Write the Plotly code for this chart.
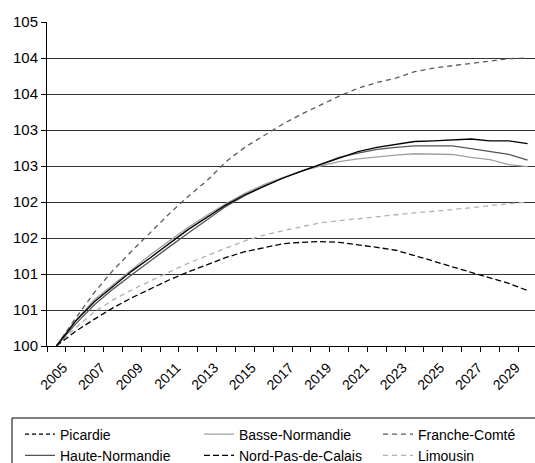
import plotly.graph_objects as go

years = list(range(2005, 2031))

picardie = [100, 100.34, 100.61, 100.83, 101.04, 101.23, 101.43, 101.62, 101.79, 101.96,
            102.10, 102.22, 102.33, 102.43, 102.52, 102.62, 102.70, 102.76, 102.80, 102.84,
            102.85, 102.86, 102.875, 102.85, 102.85, 102.81]
basse_normandie = [100, 100.35, 100.64, 100.85, 101.07, 101.27, 101.46, 101.65, 101.82, 101.98,
                   102.12, 102.24, 102.34, 102.43, 102.50, 102.56, 102.60, 102.63, 102.65, 102.67,
                   102.67, 102.66, 102.62, 102.59, 102.52, 102.49]
franche_comte = [100, 100.38, 100.74, 101.05, 101.32, 101.58, 101.84, 102.08, 102.30, 102.56,
                 102.76, 102.92, 103.08, 103.22, 103.35, 103.47, 103.58, 103.66, 103.72, 103.81,
                 103.86, 103.89, 103.93, 103.96, 103.99, 104.00]
haute_normandie = [100, 100.30, 100.57, 100.79, 100.99, 101.19, 101.38, 101.57, 101.76, 101.94,
                   102.09, 102.22, 102.33, 102.43, 102.53, 102.62, 102.68, 102.73, 102.76, 102.78,
                   102.78, 102.78, 102.74, 102.70, 102.66, 102.58]
nord_pas_de_calais = [100, 100.20, 100.37, 100.53, 100.67, 100.80, 100.92, 101.03, 101.13, 101.23,
                      101.31, 101.37, 101.42, 101.44, 101.45, 101.44, 101.41, 101.37, 101.33, 101.26,
                      101.18, 101.10, 101.02, 100.95, 100.87, 100.77]
limousin = [100, 100.25, 100.47, 100.64, 100.78, 100.91, 101.03, 101.15, 101.26, 101.36,
            101.46, 101.54, 101.60, 101.66, 101.71, 101.74, 101.77, 101.79, 101.82, 101.85,
            101.87, 101.89, 101.92, 101.95, 101.98, 102.00]

y_tickvals = [100, 100.5, 101, 101.5, 102, 102.5, 103, 103.5, 104, 104.5]
y_ticktext = ["100", "101", "101", "102", "102", "103", "103", "104", "104", "105"]
x_labels = list(range(2005, 2030, 2))

FONT = "Liberation Sans, Arial, sans-serif"
W, H = 535, 463
ML, MT, MB = 47, 22, 117
PW, PH = W - ML, H - MT - MB

def px_x(p):
    return (p - ML) / PW

def px_y(p):
    return (H - MB - p) / PH

fig = go.Figure()

def add(name, y, color, dash, rank, show=True):
    fig.add_trace(go.Scatter(x=years, y=y, name=name, mode="lines",
                             line=dict(color=color, width=1.3, dash=dash),
                             showlegend=show, legendrank=rank))

add("Limousin", limousin, "#b0b0b0", "5px,4px", 6)
add("Nord-Pas-de-Calais", nord_pas_de_calais, "#000000", "6px,3px", 5)
add("Franche-Comté", franche_comte, "#5a5a5a", "5px,4px", 3)
add("Basse-Normandie", basse_normandie, "#a0a0a0", "solid", 2)
add("Haute-Normandie", haute_normandie, "#555555", "solid", 4)
add("Picardie", picardie, "#000000", "solid", 1, show=False)
# legend entry for Picardie as shown in the reference legend
fig.add_trace(go.Scatter(x=[None], y=[None], name="Picardie", mode="lines",
                         line=dict(color="#000000", width=1.3, dash="4px,3px"),
                         legendrank=1))

# legend frame
fig.add_shape(type="rect", xref="paper", yref="paper",
              x0=px_x(12), x1=px_x(W + 20), y0=px_y(418), y1=px_y(H + 20),
              line=dict(color="black", width=1), fillcolor="rgba(0,0,0,0)")

fig.update_layout(
    width=W, height=H,
    margin=dict(l=ML, r=0, t=MT, b=MB, autoexpand=False),
    paper_bgcolor="white", plot_bgcolor="white",
    font=dict(family=FONT, size=14, color="black"),
    showlegend=True,
    legend=dict(orientation="h", x=px_x(20), xanchor="left", y=px_y(418.5), yanchor="top",
                borderwidth=0, bgcolor="rgba(0,0,0,0)",
                entrywidth=134, entrywidthmode="pixels",
                font=dict(family=FONT, size=14, color="black"),
                traceorder="normal"),
)
fig.update_xaxes(
    range=[2004.5, 2030.39], tickmode="array", tickvals=x_labels,
    ticktext=[str(v) for v in x_labels], tickangle=-45, ticks="",
    ticklabelstandoff=7, ticklabelshift=7,
    showline=True, linecolor="black", linewidth=1, showgrid=False, zeroline=False,
    automargin=False, tickfont=dict(family=FONT, size=14),
    minor=dict(tickmode="linear", tick0=2004.5, dtick=1, ticks="outside",
               ticklen=5, tickcolor="black", showgrid=False),
)
fig.update_yaxes(
    range=[100, 104.5], tickmode="array", tickvals=y_tickvals, ticktext=y_ticktext,
    ticks="outside", ticklen=5, tickcolor="black",
    showline=True, linecolor="black", linewidth=1,
    showgrid=True, gridcolor="#333333", gridwidth=1, zeroline=False,
    automargin=False, tickfont=dict(family=FONT, size=15),
)

fig.write_html("out.html", config={"displayModeBar": False},
               post_script="document.body.style.margin='0';document.body.style.overflow='hidden';")
